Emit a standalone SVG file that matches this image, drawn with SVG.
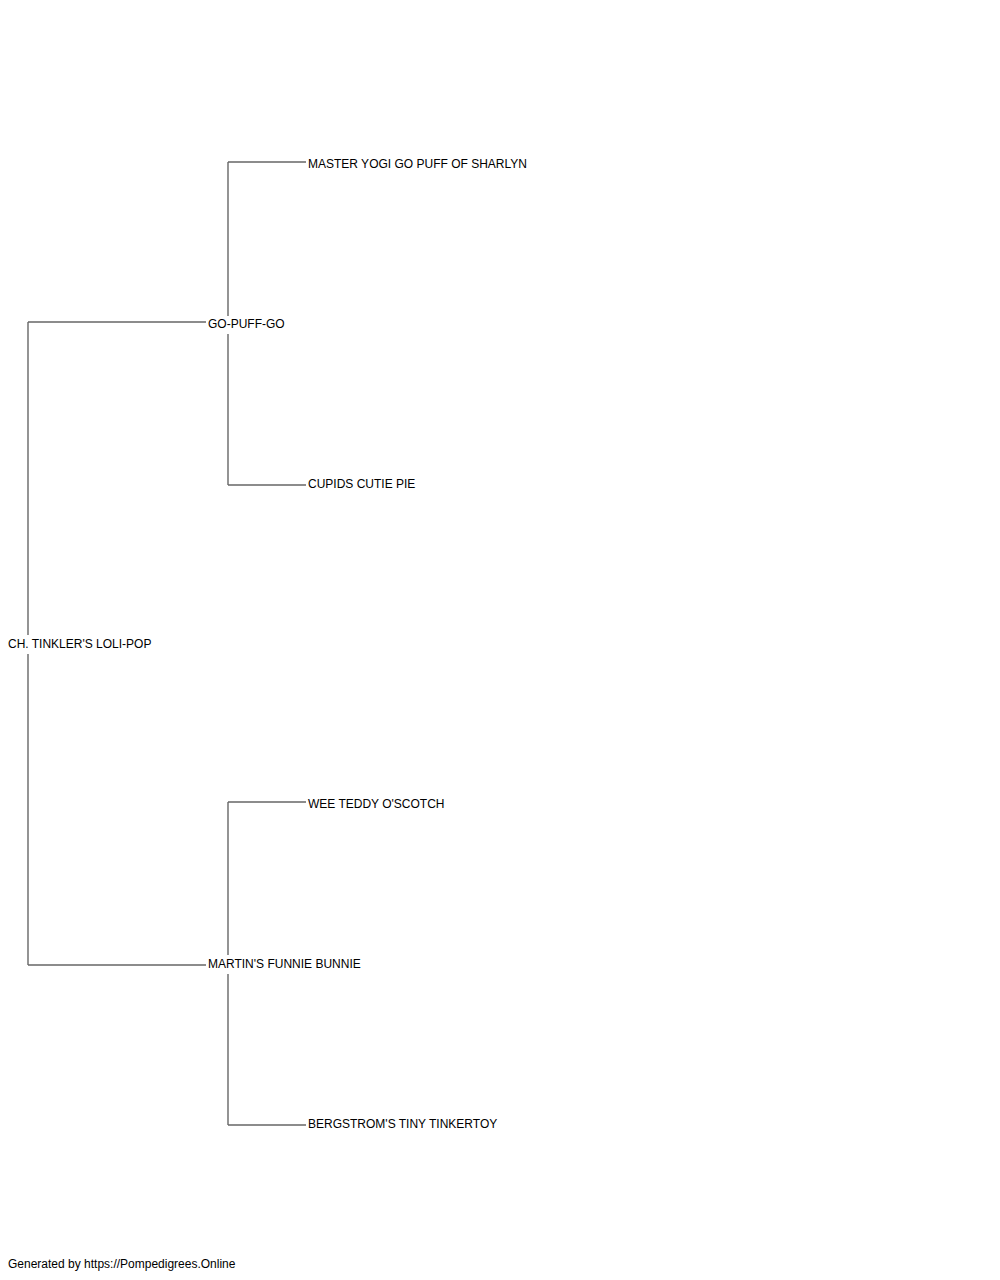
<svg xmlns="http://www.w3.org/2000/svg" width="1000" height="1280" viewBox="0 0 1000 1280">
<style>
.t{font-family:"Liberation Sans",Arial,sans-serif;font-size:12px;fill:#000}
.c line{stroke:#666;stroke-width:1.4;fill:none}
</style>
<rect width="1000" height="1280" fill="#fff"/>
<g class="c" id="connectors">
<line x1="28" y1="322" x2="206" y2="322"/>
<line x1="28" y1="322" x2="28" y2="635"/>
<line x1="28" y1="654" x2="28" y2="965"/>
<line x1="28" y1="965" x2="206" y2="965"/>
<line x1="228" y1="162" x2="306" y2="162"/>
<line x1="228" y1="162" x2="228" y2="316"/>
<line x1="228" y1="334" x2="228" y2="485"/>
<line x1="228" y1="485" x2="306" y2="485"/>
<line x1="228" y1="802" x2="306" y2="802"/>
<line x1="228" y1="802" x2="228" y2="955"/>
<line x1="228" y1="974" x2="228" y2="1125"/>
<line x1="228" y1="1125" x2="306" y2="1125"/>
</g>
<g id="n-root"><text class="t" x="8" y="648">CH. TINKLER'S LOLI-POP</text></g>
<g id="n-sire"><text class="t" x="208" y="328">GO-PUFF-GO</text></g>
<g id="n-dam"><text class="t" x="208" y="968">MARTIN'S FUNNIE BUNNIE</text></g>
<g id="n-ss"><text class="t" x="308" y="168">MASTER YOGI GO PUFF OF SHARLYN</text></g>
<g id="n-sd"><text class="t" x="308" y="488">CUPIDS CUTIE PIE</text></g>
<g id="n-ds"><text class="t" x="308" y="808">WEE TEDDY O'SCOTCH</text></g>
<g id="n-dd"><text class="t" x="308" y="1128">BERGSTROM'S TINY TINKERTOY</text></g>
<g id="footer"><text class="t" x="8" y="1268">Generated by https://Pompedigrees.Online</text></g>
</svg>
